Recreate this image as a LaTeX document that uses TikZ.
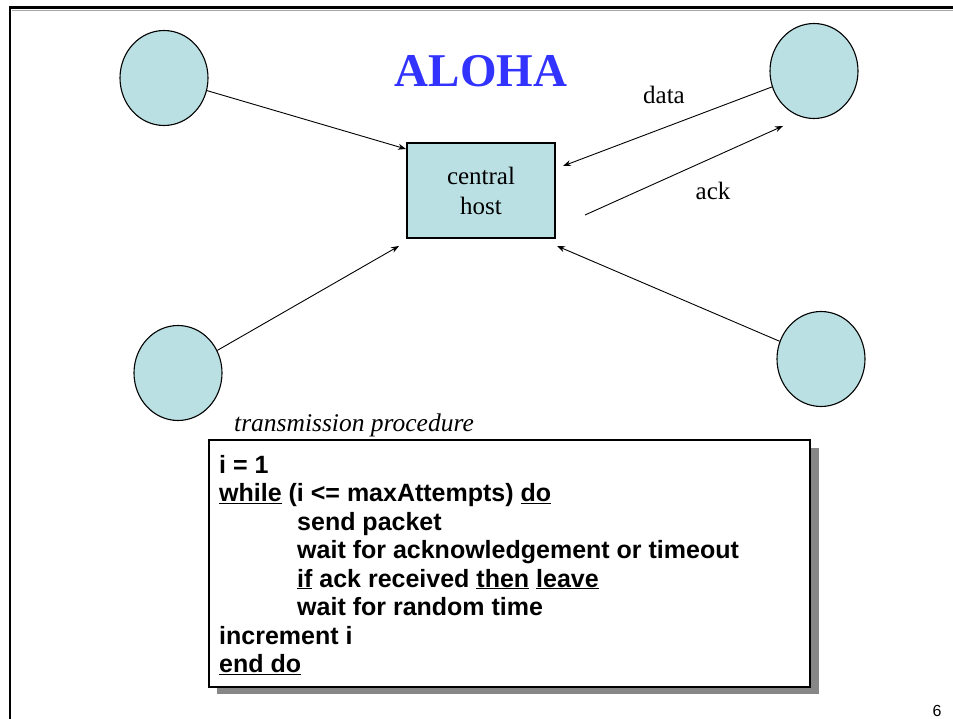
\documentclass[tikz,border=0pt]{standalone}
\usepackage{fontspec}
\setmainfont{Liberation Serif}
\newfontfamily\arialf{Liberation Sans}
\usetikzlibrary{arrows.meta,shapes.geometric}
\definecolor{stationfill}{HTML}{BAE0E3}
\definecolor{titleblue}{HTML}{3333FF}
\begin{document}
\begin{tikzpicture}[x=1pt,y=-1pt,
  station/.style={ellipse,draw=black,line width=1.1pt,fill=stationfill,minimum width=88pt,minimum height=95pt,inner sep=0pt},
  hostbox/.style={rectangle,draw=black,line width=1.1pt,fill=stationfill,minimum width=148pt,minimum height=95pt,align=center,inner sep=0pt,font=\fontsize{25}{30}\selectfont},
  arr/.style={line width=0.9pt,-{Stealth[length=8pt,width=6pt]}},
  lbl/.style={font=\fontsize{25}{30}\selectfont},
  proc/.style={anchor=base west,inner sep=0pt,font=\arialf\bfseries\fontsize{25}{28.5}\selectfont},
]
\useasboundingbox (0,0) rectangle (953,719);
% frame
\draw[gray!70,line width=1pt] (12,10.5) -- (953,10.5);
\draw[line width=2.4pt] (10,719) -- (10,7.5) -- (953,7.5);

% title
\node[text=titleblue,font=\bfseries\fontsize{47}{50}\selectfont] (title) at (481,71) {ALOHA};

% stations
\node[station] (s1) at (164,78) {};
\node[station] (s2) at (814,71) {};
\node[station] (s3) at (178,373) {};
\node[station] (s4) at (821,359) {};

% central host
\node[hostbox] (host) at (481,190.5) {central\\host};

% arrow end points
\coordinate (t1) at (406,149);
\coordinate (t3) at (399,246);
\coordinate (t4) at (557,246);
\coordinate (td) at (563,166);
\coordinate (ackstart) at (585,215);
\coordinate (ackend) at (783,126);

\draw[arr] (s1) -- (t1);
\draw[arr] (s3) -- (t3);
\draw[arr] (s4) -- (t4);
\draw[arr] (s2) -- (td);
\draw[arr] (ackstart) -- (ackend);

\node[lbl] (ldata) at (664,95) {data};
\node[lbl] (lack) at (713,191) {ack};

% transmission procedure
\node[anchor=base west,inner sep=0pt,font=\itshape\fontsize{25.5}{30}\selectfont] (ptitle) at (234,431) {transmission procedure};

\fill[black!47] (217,448) rectangle (819,694);
\node[draw=black,line width=1.1pt,fill=white,minimum width=601pt,minimum height=247pt,inner sep=0pt] (pbox) at (509.5,563.5) {};

\node[proc] (l1) at (219,473) {i = 1};
\node[proc] (l2) at (219,501.5) {\underline{while} (i <= maxAttempts) \underline{do}};
\node[proc] (l3) at (297,530) {send packet};
\node[proc] (l4) at (297,558.5) {wait for acknowledgement or timeout};
\node[proc] (l5) at (297,587) {\underline{if} ack received \underline{then} \underline{leave}};
\node[proc] (l6) at (297,615.5) {wait for random time};
\node[proc] (l7) at (219,644) {increment i};
\node[proc] (l8) at (219,672.5) {\underline{end do}};

\node[anchor=base,inner sep=0pt,font=\arialf\fontsize{16}{16}\selectfont] (pnum) at (937,716) {6};
\end{tikzpicture}
\end{document}
